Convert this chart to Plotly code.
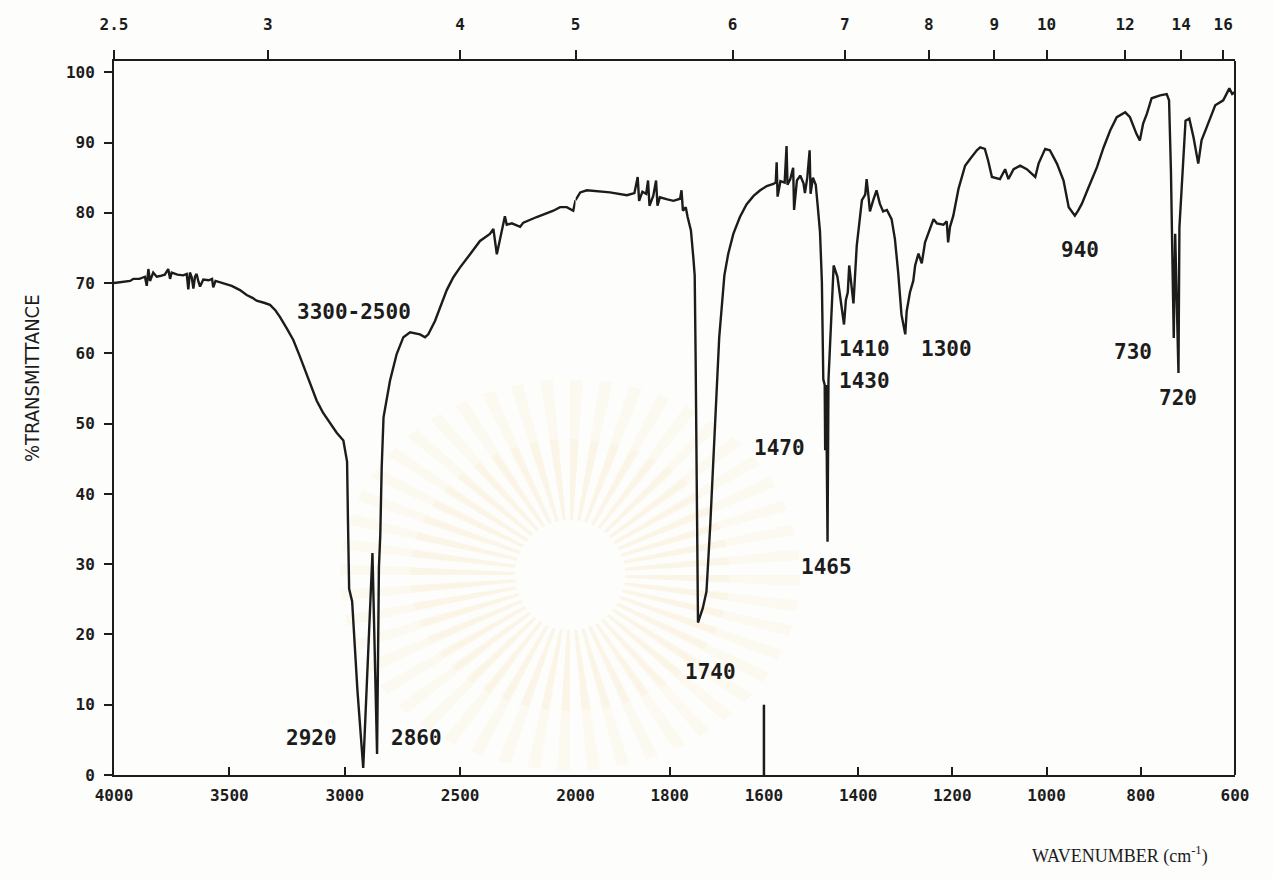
import math
import plotly.graph_objects as go

# IR spectrum: wavenumber (cm-1) and % transmittance, scanned from 4000 down to 600
wavenumber = [
    4000, 3960, 3930, 3916, 3890, 3866, 3858, 3851, 3844, 3830, 3815, 3801, 3780, 3765, 3757, 3750,
    3725, 3700, 3685, 3678, 3671, 3663, 3656, 3649, 3642, 3634, 3627, 3613, 3590, 3575, 3570, 3560,
    3526, 3490, 3454, 3425, 3400, 3382, 3350, 3324, 3300, 3281, 3252, 3223, 3195, 3165, 3140, 3122,
    3095, 3064, 3035, 3006, 2998, 2990, 2986, 2981, 2968, 2945, 2920, 2905, 2890, 2880, 2860, 2856,
    2852, 2846, 2840, 2832, 2804, 2775, 2746, 2717, 2690, 2674, 2652, 2638, 2609, 2587, 2558, 2530,
    2501, 2457, 2414, 2371, 2356, 2341, 2335, 2327, 2320, 2306, 2298, 2276, 2240, 2226, 2168, 2130,
    2096, 2067, 2038, 2010, 2000, 1990, 1976, 1950, 1927, 1891, 1875, 1868, 1865, 1858, 1850, 1846,
    1843, 1835, 1829, 1826, 1821, 1805, 1792, 1778, 1775, 1772, 1766, 1762, 1755, 1750, 1747, 1745,
    1743, 1741, 1740, 1730, 1722, 1714, 1706, 1695, 1684, 1676, 1665, 1651, 1637, 1622, 1608, 1594,
    1580, 1575, 1573, 1571, 1565, 1556, 1552, 1550, 1544, 1538, 1536, 1530, 1523, 1516, 1513, 1508,
    1503, 1501, 1496, 1490, 1486, 1481, 1477, 1474, 1471, 1470, 1468, 1465, 1463, 1458, 1452, 1444,
    1430, 1426, 1422, 1419, 1410, 1403, 1392, 1385, 1382, 1378, 1375, 1368, 1361, 1354, 1347, 1339,
    1329, 1322, 1315, 1308, 1300, 1297, 1290, 1283, 1279, 1272, 1265, 1258, 1247, 1240, 1233, 1219,
    1212, 1209, 1205, 1198, 1187, 1173, 1162, 1148, 1141, 1131, 1124, 1116, 1099, 1088, 1081, 1070,
    1056, 1042, 1024, 1017, 1003, 993, 978, 964, 953, 940, 933, 925, 911, 893, 879, 865,
    851, 833, 823, 809, 802, 795, 787, 777, 759, 745, 740, 736, 733, 730, 727, 720,
    718, 710, 705, 697, 688, 678, 671, 660, 650, 642, 625, 612, 606, 600,
]
transmittance = [
    70.0, 70.2, 70.3, 70.6, 70.6, 70.9, 69.6, 72.0, 70.3, 71.5, 70.9, 71.0, 71.2, 72.0, 70.6, 71.5,
    71.2, 71.1, 71.3, 69.1, 71.5, 70.8, 69.2, 70.9, 71.3, 70.2, 69.5, 70.5, 70.4, 70.6, 69.4, 70.3,
    70.0, 69.6, 69.0, 68.3, 67.9, 67.5, 67.2, 66.9, 66.1, 65.2, 63.6, 61.9, 59.6, 57.1, 54.9, 53.3,
    51.6, 50.0, 48.7, 47.6, 46.2, 44.6, 36.0, 26.5, 24.7, 12.0, 1.0, 12.0, 24.0, 31.6, 3.0, 19.0,
    29.5, 34.2, 43.7, 50.9, 56.1, 59.9, 62.3, 63.0, 62.8, 62.7, 62.3, 62.7, 64.6, 66.5, 69.0, 70.8,
    72.2, 74.1, 76.0, 77.0, 77.7, 74.1, 75.0, 76.6, 77.6, 79.5, 78.3, 78.5, 78.0, 78.6, 79.4, 79.9,
    80.3, 80.8, 80.8, 80.3, 81.8, 82.9, 83.2, 83.0, 82.9, 82.5, 82.8, 85.1, 81.7, 83.0, 82.7, 84.6,
    81.0, 82.4, 84.6, 81.0, 82.2, 81.9, 81.7, 82.0, 83.2, 80.3, 80.8, 79.4, 77.5, 73.7, 71.1, 59.3,
    41.5, 29.7, 21.7, 23.7, 26.1, 35.5, 47.4, 62.2, 71.1, 74.1, 77.0, 79.4, 81.2, 82.4, 83.2, 83.8,
    84.1, 84.3, 87.2, 82.3, 84.5, 84.3, 89.5, 84.0, 84.8, 86.4, 80.4, 84.6, 85.3, 84.2, 82.8, 85.0,
    88.9, 82.7, 85.0, 84.0, 81.1, 77.3, 70.2, 56.3, 55.5, 46.2, 55.5, 33.2, 56.2, 64.4, 72.5, 70.9,
    64.1, 67.6, 68.7, 72.5, 67.1, 75.3, 81.8, 82.6, 84.8, 82.3, 80.2, 81.8, 83.2, 81.3, 80.2, 80.4,
    79.1, 76.3, 71.5, 65.5, 62.7, 66.0, 68.7, 70.3, 72.5, 74.2, 72.8, 75.8, 78.0, 79.1, 78.5, 78.3,
    78.8, 75.8, 78.0, 79.6, 83.4, 86.7, 87.7, 88.9, 89.3, 89.1, 87.4, 85.1, 84.8, 86.2, 84.8, 86.2,
    86.7, 86.2, 85.1, 87.0, 89.1, 88.9, 87.0, 84.6, 80.8, 79.6, 80.3, 81.3, 83.6, 86.5, 89.3, 91.7,
    93.6, 94.3, 93.6, 91.2, 90.3, 92.7, 94.1, 96.3, 96.7, 96.9, 96.0, 86.0, 74.0, 62.2, 77.0, 57.2,
    77.9, 87.4, 93.1, 93.4, 90.7, 87.0, 90.3, 92.2, 94.0, 95.3, 96.0, 97.7, 96.9, 97.2,
]

# Calibration pip drawn by the spectrometer at 1600 cm-1
marker_wn = [1600, 1600]
marker_t = [0, 10]

# Axis ticks: wavenumber below, wavelength (micrometres) above
bottom_left_ticks = [4000, 3500, 3000, 2500, 2000]
bottom_right_ticks = [1800, 1600, 1400, 1200, 1000, 800, 600]
top_left_um = [2.5, 3, 4, 5]
top_right_um = [6, 7, 8, 9, 10, 12, 14, 16]
y_ticks = [0, 10, 20, 30, 40, 50, 60, 70, 80, 90, 100]

# Band assignments written on the chart
peak_labels = ["3300-2500", "2920", "2860", "1740", "1470", "1465", "1410", "1430", "1300", "940", "730", "720"]
peak_label_wn = [2960, 3142, 2691, 1714, 1568, 1468, 1387, 1387, 1213, 929, 816, 721]
peak_label_t = [65.9, 5.3, 5.3, 14.7, 46.5, 29.6, 60.6, 56.0, 60.6, 74.7, 60.2, 53.6]

INK = "#1c1c1c"
MONO = "DejaVu Sans Mono, Liberation Mono, monospace"

# The chart paper switches scale at 2000 cm-1 (right part is twice as expanded)
SPLIT = 0.4117

# plot-area geometry in pixels, used for paper-anchored decorations
W, H = 1273, 879
PL, PR, PT, PB = 114, 38, 61, 104


def to_paper(px, py):
    return (px - PL) / (W - PL - PR), (H - PB - py) / (H - PB - PT)


left_pts = [(w, t) for w, t in zip(wavenumber, transmittance) if w >= 2000]
right_pts = [(w, t) for w, t in zip(wavenumber, transmittance) if w <= 2000]

fig = go.Figure()
fig.add_trace(go.Scatter(
    x=[p[0] for p in left_pts], y=[p[1] for p in left_pts],
    mode="lines", line=dict(color=INK, width=2.4), xaxis="x", yaxis="y",
    hoverinfo="skip", showlegend=False,
))
fig.add_trace(go.Scatter(
    x=[p[0] for p in right_pts], y=[p[1] for p in right_pts],
    mode="lines", line=dict(color=INK, width=2.4), xaxis="x2", yaxis="y",
    hoverinfo="skip", showlegend=False,
))
fig.add_trace(go.Scatter(
    x=marker_wn, y=marker_t, mode="lines", line=dict(color=INK, width=2.5),
    xaxis="x2", yaxis="y", hoverinfo="skip", showlegend=False,
))

# invisible carriers so the wavelength scales along the top are drawn
top_left_wn = [10000 / u for u in top_left_um]
top_right_wn = [10000 / u for u in top_right_um]
fig.add_trace(go.Scatter(
    x=top_left_wn, y=[100] * len(top_left_wn), mode="markers", marker=dict(opacity=0),
    xaxis="x3", yaxis="y", hoverinfo="skip", showlegend=False,
))
fig.add_trace(go.Scatter(
    x=top_right_wn, y=[100] * len(top_right_wn), mode="markers", marker=dict(opacity=0),
    xaxis="x4", yaxis="y", hoverinfo="skip", showlegend=False,
))

for text, w, t in zip(peak_labels, peak_label_wn, peak_label_t):
    fig.add_annotation(
        text=text, x=w, y=t, xref="x" if w > 2000 else "x2", yref="y",
        showarrow=False, font=dict(family=MONO, size=21, color=INK, weight="bold"),
    )

# faint sunburst emblem printed on the chart paper, behind the trace
cx, cy = 570, 575
for r_out, alpha in ((230, 0.07), (160, 0.08)):
    for k in range(48):
        a0 = math.radians(k * 7.5)
        a1 = a0 + math.radians(3.2)
        pts = [
            (cx + 55 * math.cos(a0), cy + 55 * math.sin(a0)),
            (cx + r_out * math.cos(a0), cy + r_out * 0.85 * math.sin(a0)),
            (cx + r_out * math.cos(a1), cy + r_out * 0.85 * math.sin(a1)),
            (cx + 55 * math.cos(a1), cy + 55 * math.sin(a1)),
        ]
        path = "M " + " L ".join(f"{to_paper(*p)[0]:.4f},{to_paper(*p)[1]:.4f}" for p in pts) + " Z"
        fig.add_shape(type="path", path=path, xref="paper", yref="paper", layer="below",
                      fillcolor=f"rgba(236, 205, 120, {alpha})", line=dict(width=0))

tick_font = dict(family=MONO, size=16, color=INK, weight="bold")
common_x = dict(
    showgrid=False, zeroline=False, showline=True, linecolor=INK, linewidth=2,
    tickcolor=INK, tickwidth=2, tickfont=tick_font,
)

fig.update_layout(
    width=W, height=H,
    margin=dict(l=PL, r=PR, t=PT, b=PB),
    paper_bgcolor="#fdfdfb", plot_bgcolor="rgba(0,0,0,0)",
    showlegend=False,
    xaxis=dict(domain=[0, SPLIT], range=[4000, 2000], anchor="y",
               tickvals=bottom_left_ticks, ticktext=[str(v) for v in bottom_left_ticks],
               ticks="inside", ticklen=8, ticklabelstandoff=5, **common_x),
    xaxis2=dict(domain=[SPLIT, 1], range=[2000, 600], anchor="y",
                tickvals=bottom_right_ticks, ticktext=[str(v) for v in bottom_right_ticks],
                ticks="inside", ticklen=8, ticklabelstandoff=5, **common_x),
    xaxis3=dict(overlaying="x", side="top", range=[4000, 2000], anchor="y",
                tickvals=top_left_wn, ticktext=[f"{u:g}" for u in top_left_um],
                ticks="outside", ticklen=9, ticklabelstandoff=14, **common_x),
    xaxis4=dict(overlaying="x2", side="top", range=[2000, 600], anchor="y",
                tickvals=top_right_wn, ticktext=[f"{u:g}" for u in top_right_um],
                ticks="outside", ticklen=9, ticklabelstandoff=14, **common_x),
    yaxis=dict(range=[0, 101.6], tickvals=y_ticks, ticks="outside", ticklen=8,
               showgrid=False, zeroline=False, showline=True, linecolor=INK, linewidth=2,
               tickcolor=INK, tickwidth=2, tickfont=tick_font, ticklabelstandoff=6),
)

# right-hand border of the chart frame
fig.add_shape(type="line", xref="paper", yref="paper", x0=1, x1=1, y0=0, y1=1,
              line=dict(color=INK, width=2))

fig.add_annotation(
    text="%TRANSMITTANCE", xref="paper", yref="paper",
    x=to_paper(32, 0)[0], y=to_paper(0, 378)[1], textangle=-90, showarrow=False,
    xanchor="center", yanchor="middle",
    font=dict(family="DejaVu Sans Condensed, DejaVu Sans, sans-serif", size=20, color=INK),
)
fig.add_annotation(
    text="WAVENUMBER (cm<sup>-1</sup>)", xref="paper", yref="paper",
    x=to_paper(1120, 0)[0], y=to_paper(0, 855)[1], showarrow=False,
    xanchor="center", yanchor="middle",
    font=dict(family="Liberation Serif, DejaVu Serif, serif", size=18, color=INK),
)

fig.write_html("out.html")
